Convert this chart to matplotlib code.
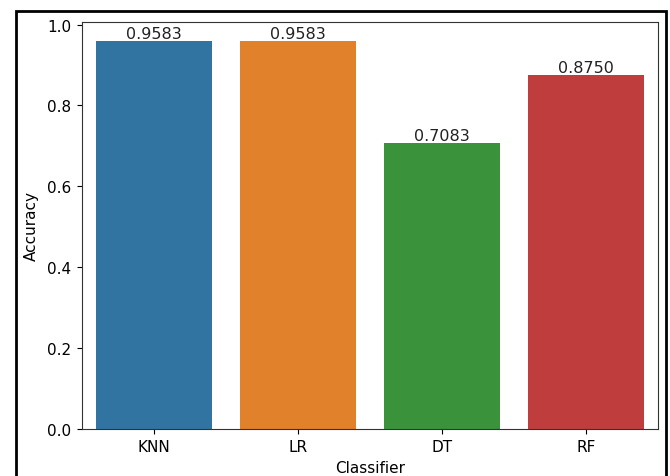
import matplotlib
matplotlib.use("Agg")
import matplotlib.pyplot as plt
from matplotlib.patches import Rectangle

classifiers = ["KNN", "LR", "DT", "RF"]
accuracy = [0.9583, 0.9583, 0.7083, 0.8750]
colors = ["#3274a1", "#e1812c", "#3a923a", "#c03d3e"]

W, H = 670, 477
fig = plt.figure(figsize=(W / 100, H / 100), dpi=100)
ax = fig.add_axes([82 / W, 1 - 430 / H, (658 - 82) / W, (430 - 23) / H])

x = list(range(len(classifiers)))
bars = ax.bar(x, accuracy, width=0.8, color=colors)
ax.set_xlim(-0.5, len(classifiers) - 0.5)
ax.set_xticks(x)
ax.set_xticklabels(classifiers)
ax.set_xlabel("Classifier", fontsize=11, labelpad=4)
ax.set_ylabel("Accuracy", fontsize=11, labelpad=6)
ax.tick_params(labelsize=11, pad=4)
for sp in ax.spines.values():
    sp.set_color("#333333")
for xi, v in zip(x, accuracy):
    ax.text(xi, v, f"{v:.4f}", ha="center", va="bottom", fontsize=11.5, color="#222222")

# outer frame of the screenshot
fig.patches.append(Rectangle((16 / W, -0.05), (666 - 16) / W, 1.05 - 12 / H,
                             transform=fig.transFigure, fill=False,
                             edgecolor="black", linewidth=2, clip_on=False))
fig.savefig("out.png", dpi=100)
